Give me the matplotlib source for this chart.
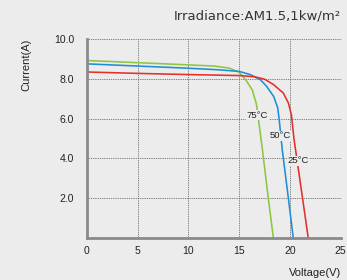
import matplotlib
matplotlib.use("Agg")
import matplotlib.pyplot as plt

# Data
v_75 = [0, 5, 10, 12.5, 14, 15, 15.7, 16.3, 16.7, 17.0, 17.3, 17.8, 18.37]
i_75 = [8.94, 8.83, 8.72, 8.66, 8.56, 8.35, 7.93, 7.45, 6.75, 5.6, 4.43, 2.3, 0]

v_50 = [0, 5, 10, 13, 15, 16.1, 17.1, 17.7, 18.4, 18.8, 18.95, 19.25, 19.8, 20.33]
i_50 = [8.77, 8.66, 8.55, 8.47, 8.39, 8.23, 7.97, 7.64, 7.13, 6.56, 5.95, 4.43, 2.2, 0]

v_25 = [0, 5, 10, 15, 16.5, 17.5, 18.4, 19.35, 19.85, 20.15, 20.4, 20.8, 21.3, 21.8]
i_25 = [8.36, 8.29, 8.23, 8.18, 8.12, 8.0, 7.72, 7.30, 6.80, 6.2, 5.0, 3.58, 1.8, 0]

x_ticks = [0, 5, 10, 15, 20, 25]
y_ticks = [2, 4, 6, 8, 10]
y_ticklabels = ["2.0", "4.0", "6.0", "8.0", "10.0"]

series = [
    ("75°C", v_75, i_75, "#8dc63f", (16.81, 6.17)),
    ("50°C", v_50, i_50, "#1e8fd5", (19.03, 5.15)),
    ("25°C", v_25, i_25, "#e2302b", (20.83, 3.89)),
]

BG = "#ececec"
fig = plt.figure(figsize=(3.47, 2.80), dpi=100, facecolor=BG)
ax = fig.add_axes([0.2499, 0.151, 0.7319, 0.708])
ax.set_facecolor(BG)

for name, v, i, c, pos in series:
    ax.plot(v, i, color=c, lw=1.15, zorder=3, solid_joinstyle="round")

for name, v, i, c, pos in series:
    ax.text(pos[0], pos[1], name, ha="center", va="center", fontsize=6.8,
            family="Liberation Sans", color="#222222", zorder=4,
            bbox=dict(boxstyle="square,pad=0.05", fc=BG, ec="none"))

ax.set_xlim(0, 25)
ax.set_ylim(0, 10)
ax.set_xticks(x_ticks)
ax.set_yticks(y_ticks)
ax.set_yticklabels(y_ticklabels)
ax.tick_params(length=0, labelsize=7.5, colors="#222222")
ax.tick_params(axis="y", pad=9)
ax.tick_params(axis="x", pad=6)
for lab in ax.get_xticklabels() + ax.get_yticklabels():
    lab.set_family("Liberation Sans")

ax.grid(True, color="#666666", lw=0.65, linestyle=(0, (1, 1)), zorder=1)
ax.set_axisbelow(True)
for s in ["top", "right"]:
    ax.spines[s].set_visible(False)
for s in ["left", "bottom"]:
    ax.spines[s].set_color("#8a8a8a")
    ax.spines[s].set_linewidth(2.0)
    ax.spines[s].set_zorder(5)

fig.text(0.075, 0.768, "Current(A)", rotation=90, ha="center", va="center",
         fontsize=8, family="Liberation Sans", color="#222222")
fig.text(0.982, 0.025, "Voltage(V)", ha="right", va="center",
         fontsize=8, family="Liberation Sans", color="#222222")
fig.text(0.982, 0.943, "Irradiance:AM1.5,1kw/m²", ha="right", va="center",
         fontsize=9.5, family="DejaVu Sans", color="#333333")

fig.savefig("out.png", dpi=100, facecolor=BG)
